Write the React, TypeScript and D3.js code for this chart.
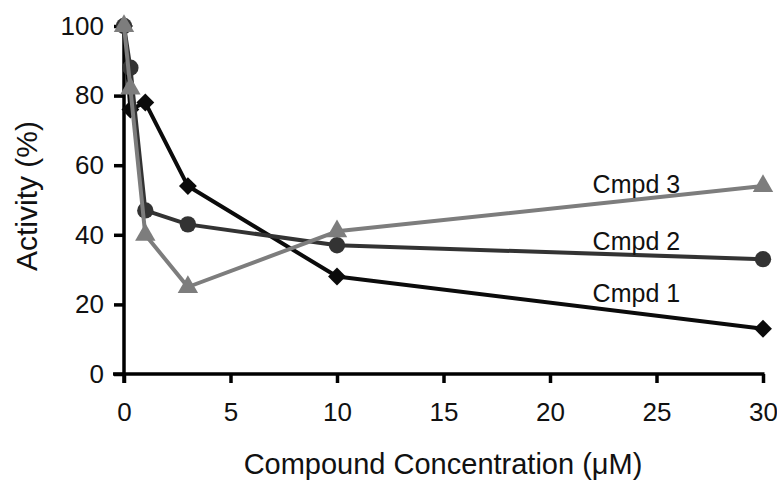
import React, { useEffect, useRef } from "react";
import * as d3 from "d3";

// concentrations (uM) shared by all compounds
const concentrations = [0, 0.3, 1, 3, 10, 30];

const cmpd1 = [100, 76, 78, 54, 28, 13];
const cmpd2 = [100, 88, 47, 43, 37, 33];
const cmpd3 = [100, 82, 40, 25, 41, 54];

const seriesNames = ["Cmpd 1", "Cmpd 2", "Cmpd 3"];
const xTicks = [0, 5, 10, 15, 20, 25, 30];
const yTicks = [0, 20, 40, 60, 80, 100];

// where the in-plot labels sit, in data units
const labelX = [22, 22, 22];
const labelY = [20.7, 35.6, 52];

const W = 777;
const H = 482;

export default function App() {
  const ref = useRef<SVGSVGElement | null>(null);

  useEffect(() => {
    const svg = d3.select(ref.current);
    svg.selectAll("*").remove();

    const x = d3.scaleLinear().domain([0, 30]).range([124, 763]);
    const y = d3.scaleLinear().domain([0, 100]).range([374, 26]);
    const font = "'Liberation Sans', Arial, Helvetica, sans-serif";

    // axes
    const gx = svg.append("g")
      .attr("transform", `translate(0, ${y(0)})`)
      .call(d3.axisBottom(x).tickValues(xTicks).tickSizeOuter(0).tickSize(9).tickPadding(20));
    const gy = svg.append("g")
      .attr("transform", `translate(${x(0)}, 0)`)
      .call(d3.axisLeft(y).tickValues(yTicks).tickSizeOuter(0).tickSize(10).tickPadding(10));

    [gx, gy].forEach(g => {
      g.select(".domain").attr("stroke", "#000").attr("stroke-width", 3.5);
      g.selectAll(".tick line").attr("stroke", "#000").attr("stroke-width", 3.5);
      g.selectAll(".tick text")
        .attr("fill", "#111")
        .style("font-family", font)
        .style("font-size", "26px");
    });
    gx.select(".domain").attr("d", `M${x(0) - 11},0H${x(30) + 1.5}`);
    gy.select(".domain").attr("d", `M0,${y(0) + 9}V${y(100)}`);

    // axis titles
    svg.append("text")
      .attr("x", 443)
      .attr("y", 474)
      .attr("text-anchor", "middle")
      .style("font-family", font)
      .style("font-size", "29px")
      .attr("fill", "#111")
      .text("Compound Concentration (\u03BCM)");

    svg.append("text")
      .attr("transform", "translate(37, 196) rotate(-90)")
      .attr("text-anchor", "middle")
      .style("font-family", font)
      .style("font-size", "30px")
      .attr("fill", "#111")
      .text("Activity (%)");

    const series = [
      { name: seriesNames[0], values: cmpd1, color: "#0b0b0b", shape: d3.symbolSquare, size: 160, rot: 45 },
      { name: seriesNames[1], values: cmpd2, color: "#333333", shape: d3.symbolCircle, size: 210, rot: 0 },
      { name: seriesNames[2], values: cmpd3, color: "#7d7d7d", shape: d3.symbolTriangle, size: 180, rot: 0 },
    ];

    const line = d3.line<number>()
      .x((_, i) => x(concentrations[i]))
      .y(d => y(d));

    series.forEach((s, si) => {
      const g = svg.append("g");
      g.append("path")
        .datum(s.values)
        .attr("d", line)
        .attr("fill", "none")
        .attr("stroke", s.color)
        .attr("stroke-width", 4)
        .attr("stroke-linejoin", "round");

      g.selectAll("path.pt")
        .data(s.values)
        .enter().append("path")
        .attr("class", "pt")
        .attr("transform", (d, i) => `translate(${x(concentrations[i])}, ${y(d)}) rotate(${s.rot})`)
        .attr("d", d3.symbol().type(s.shape).size(s.size)())
        .attr("fill", s.color);

      svg.append("text")
        .attr("x", x(labelX[si]))
        .attr("y", y(labelY[si]))
        .style("font-family", font)
        .style("font-size", "25px")
        .attr("fill", "#111")
        .text(s.name);
    });
  }, []);

  return (
    <svg ref={ref} width={W} height={H} style={{ position: "absolute", left: 0, top: 0, background: "#fff" }} />
  );
}
